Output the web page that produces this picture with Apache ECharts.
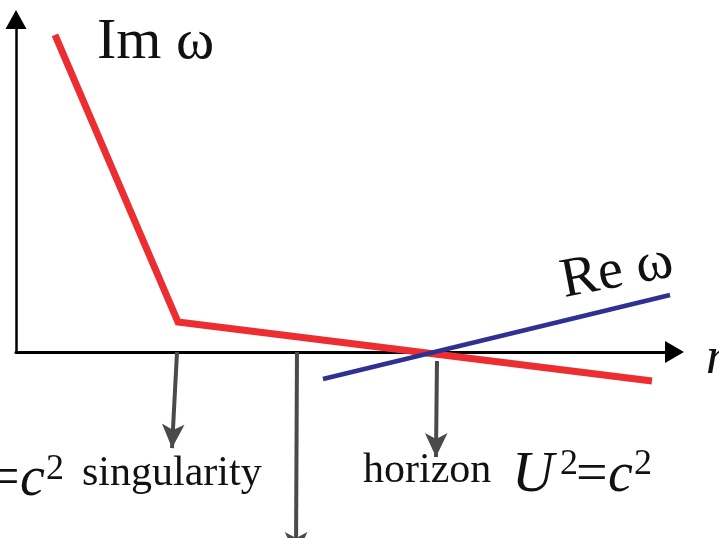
<!DOCTYPE html>
<html>
<head>
<meta charset="utf-8">
<script src="https://cdn.jsdelivr.net/npm/echarts@6/dist/echarts.min.js"></script>
<style>
  html, body { margin: 0; padding: 0; background: #fff; }
  #chart { width: 719px; height: 538px; }
</style>
</head>
<body>
<div id="chart"></div>
<script>
// Branches of the frequency against n (axes run 0..10 and 0..5)
const imOmega = [[0.592, 4.767], [2.460, 0.451], [9.658, -0.436]];
const reOmega = [[4.662, -0.406], [9.932, 0.857]];

// Pointers dropping from the n axis to the annotations beneath it
const pointerFrom = [[2.445, 0], [4.267, 0], [6.393, -0.135]];
const pointerTo   = [[2.369, -1.444], [4.252, -3.068], [6.378, -1.579]];

const SERIF = '"Liberation Serif", "Times New Roman", serif';

// Text pieces: [text, x, baseline, size, italic]
const labels = [
  ['Im \u03c9', 97, 62, 58, false],
  ['n', 706, 377, 53, true],
  ['=', -13, 499, 58, false],
  ['c', 20, 499, 56, true],
  ['2', 46, 482, 36, false],
  ['singularity', 82, 488, 42, false],
  ['horizon', 363, 485, 42, false],
  ['U', 512, 495, 58, true],
  ['2', 560, 477, 36, false],
  ['=', 576, 495, 56, false],
  ['c', 608, 495, 56, true],
  ['2', 634, 477, 36, false]
];

const graphic = labels.map(function (l) {
  return {
    type: 'text',
    x: l[1],
    y: l[2] - 0.34 * l[3],
    z: 100,
    style: {
      text: l[0],
      font: (l[4] ? 'italic ' : '') + l[3] + 'px ' + SERIF,
      fill: '#111',
      align: 'left',
      verticalAlign: 'middle'
    }
  };
});
graphic.push({
  type: 'text',
  x: 617,
  y: 272,
  rotation: 0.19,
  z: 100,
  style: {
    text: 'Re \u03c9',
    font: '56px ' + SERIF,
    fill: '#111',
    align: 'center',
    verticalAlign: 'middle'
  }
});

const chart = echarts.init(document.getElementById('chart'), null, { renderer: 'canvas' });
chart.setOption({
  animation: false,
  backgroundColor: '#fff',
  grid: { left: 16, top: 19.5, right: 44.5, bottom: 186 },
  xAxis: {
    type: 'value', min: 0, max: 10,
    axisLine: {
      show: true, onZero: false,
      symbol: ['none', 'triangle'], symbolSize: [22, 19],
      lineStyle: { color: '#000', width: 3 }
    },
    axisTick: { show: false }, axisLabel: { show: false }, splitLine: { show: false }
  },
  yAxis: {
    type: 'value', min: 0, max: 5,
    axisLine: {
      show: true, onZero: false,
      symbol: ['none', 'triangle'], symbolSize: [21, 19],
      lineStyle: { color: '#000', width: 2.5 }
    },
    axisTick: { show: false }, axisLabel: { show: false }, splitLine: { show: false }
  },
  series: [
    {
      name: 'Im \u03c9', type: 'line', data: imOmega, symbol: 'none', clip: false, z: 3,
      lineStyle: { color: '#ec2d31', width: 7, cap: 'butt', join: 'miter' }
    },
    {
      name: 'Re \u03c9', type: 'line', data: reOmega, symbol: 'none', clip: false, z: 4,
      lineStyle: { color: '#2e3192', width: 4.5, cap: 'butt' }
    },
    {
      type: 'lines', coordinateSystem: 'cartesian2d', clip: false, z: 2,
      symbol: ['none', 'arrow'], symbolSize: [0, [17, 24]],
      lineStyle: { color: '#4a4a4a', width: 4, opacity: 1, curveness: 0 },
      data: pointerFrom.map(function (p, i) { return { coords: [p, pointerTo[i]] }; })
    }
  ],
  graphic: graphic
});
</script>
</body>
</html>
